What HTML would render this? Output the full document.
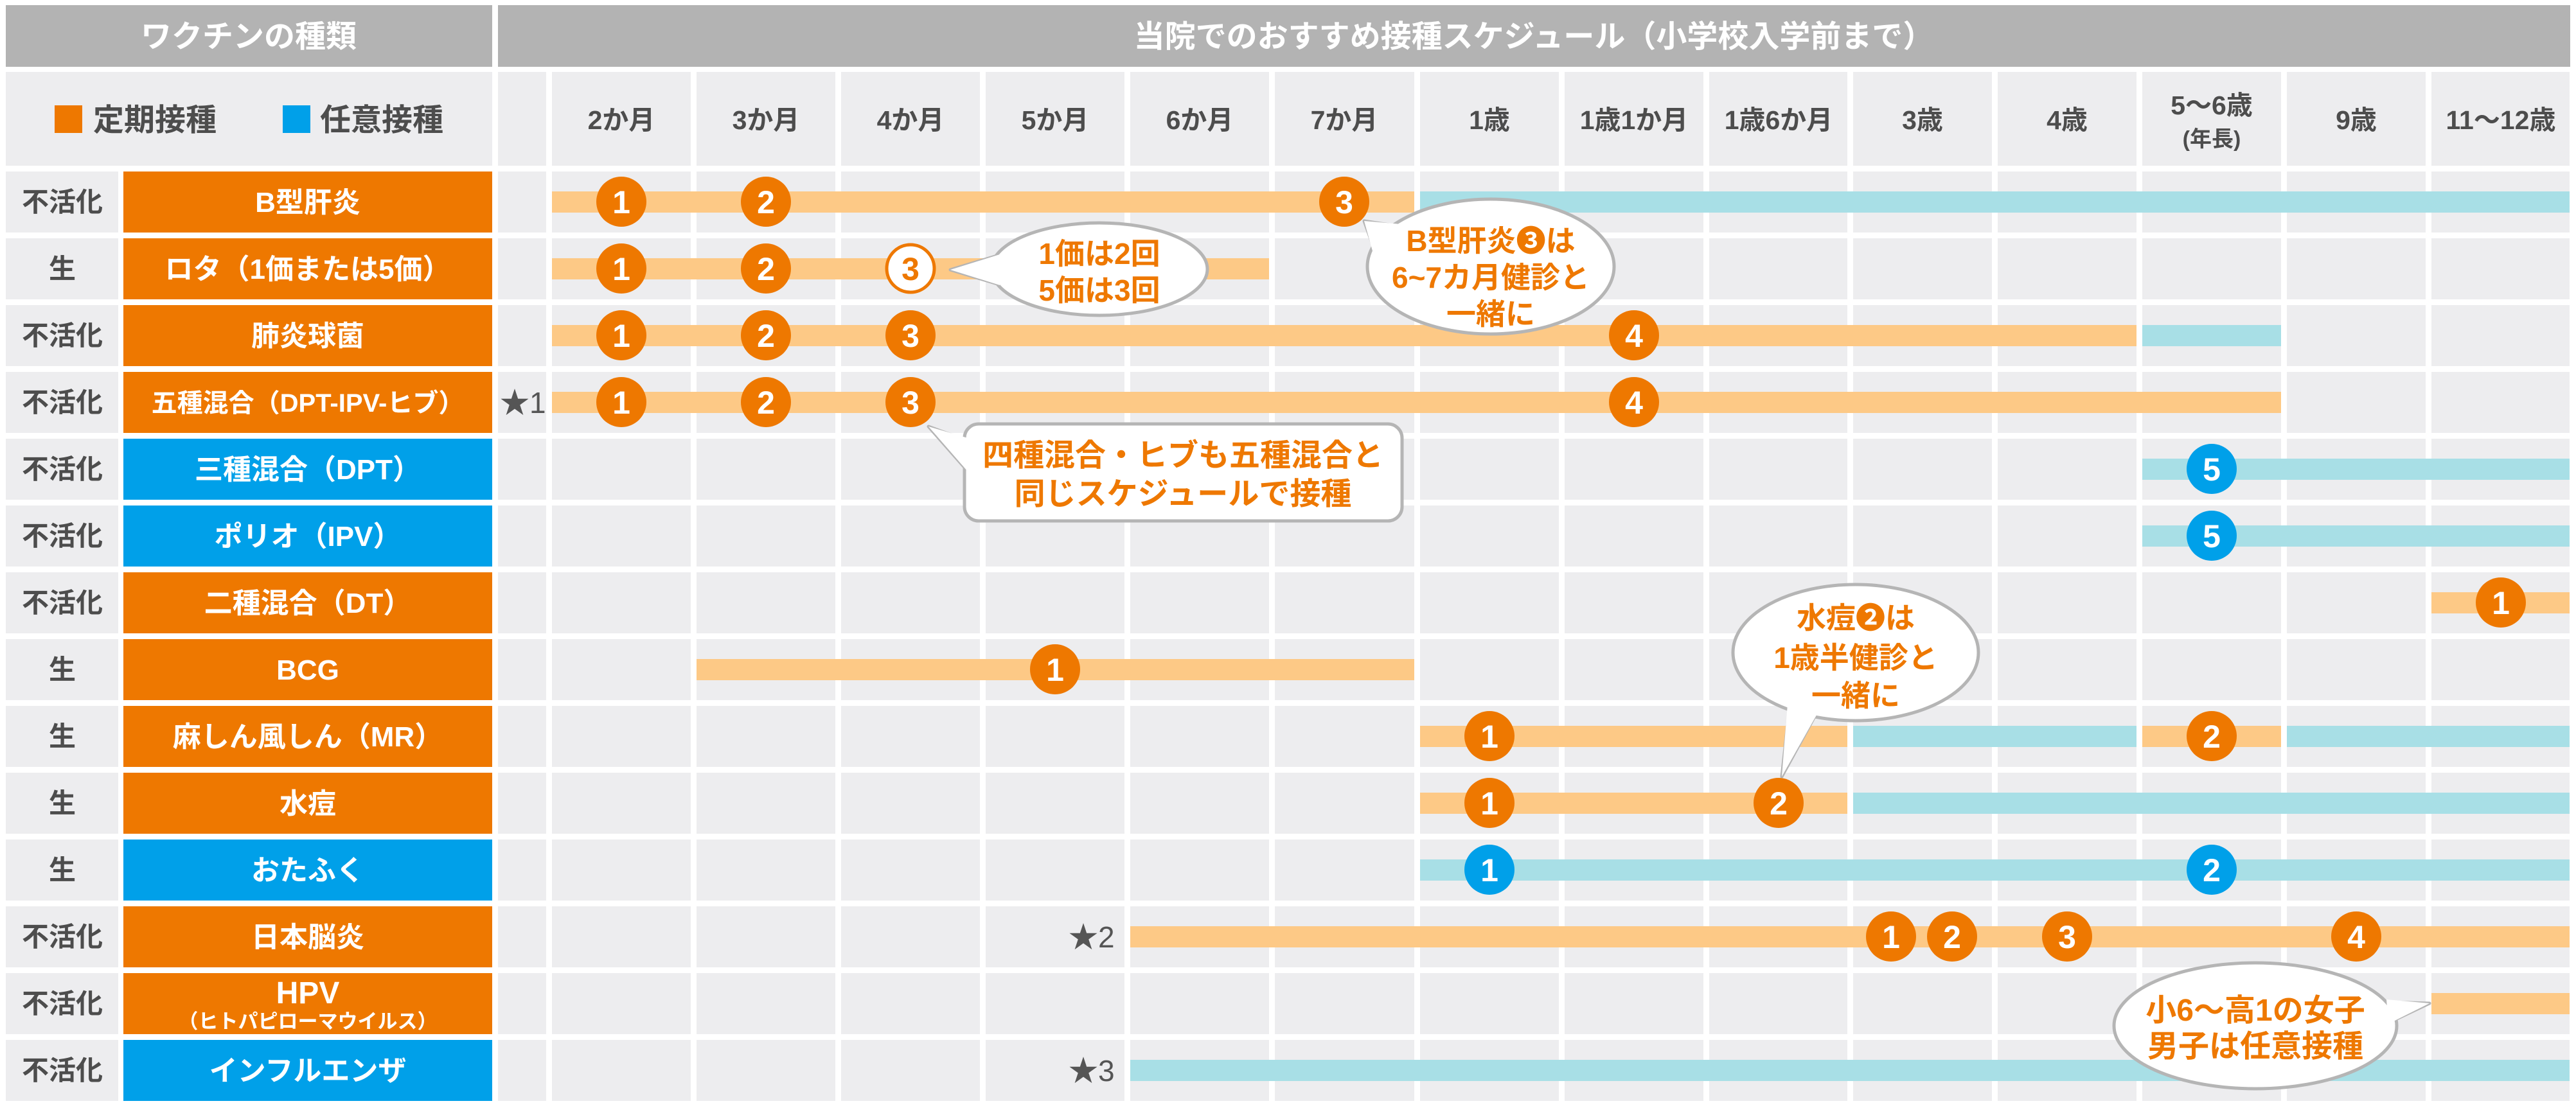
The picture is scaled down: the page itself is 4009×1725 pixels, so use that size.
<!DOCTYPE html>
<html><head><meta charset="utf-8"><style>
html,body{margin:0;padding:0;background:#fff;}
svg{display:block;}
text{font-family:"Liberation Sans","Noto Sans CJK JP","DejaVu Sans",sans-serif;font-weight:700;}
.ty{font-size:42px;fill:#4d4d4d;text-anchor:middle;}
.nm{font-size:44px;fill:#fff;text-anchor:middle;}
.mo{font-size:41px;fill:#4d4d4d;text-anchor:middle;}
.cn{font-size:50px;fill:#fff;text-anchor:middle;}
.co{font-size:46px;fill:#ee7800;text-anchor:middle;}
.st{font-size:46px;fill:#555;font-weight:400;}
</style></head><body>
<svg width="4009" height="1725" viewBox="0 0 4009 1725" xmlns="http://www.w3.org/2000/svg">
<rect width="4009" height="1725" fill="#fff"/>
<rect x="9" y="8" width="757" height="96" fill="#b3b3b3"/>
<rect x="775" y="8" width="3225" height="96" fill="#b3b3b3"/>
<text x="387" y="73" text-anchor="middle" style="font-size:48px;fill:#fff">ワクチンの種類</text>
<text x="2387" y="73" text-anchor="middle" style="font-size:48px;fill:#fff">当院でのおすすめ接種スケジュール（小学校入学前まで）</text>
<rect x="9" y="112" width="757" height="1602" fill="#ededef"/>
<rect x="775" y="112" width="3224" height="1602" fill="#ededef"/>
<g fill="#fff">
<rect x="184" y="267" width="8" height="1450"/>
<rect x="850" y="112" width="9" height="1605"/>
<rect x="1075" y="112" width="9" height="1605"/>
<rect x="1300" y="112" width="9" height="1605"/>
<rect x="1525" y="112" width="9" height="1605"/>
<rect x="1750" y="112" width="9" height="1605"/>
<rect x="1975" y="112" width="9" height="1605"/>
<rect x="2201" y="112" width="9" height="1605"/>
<rect x="2426" y="112" width="9" height="1605"/>
<rect x="2651" y="112" width="9" height="1605"/>
<rect x="2875" y="112" width="9" height="1605"/>
<rect x="3100" y="112" width="9" height="1605"/>
<rect x="3325" y="112" width="9" height="1605"/>
<rect x="3550" y="112" width="9" height="1605"/>
<rect x="3775" y="112" width="9" height="1605"/>
<rect x="0" y="258" width="4009" height="9"/>
<rect x="0" y="362" width="4009" height="9"/>
<rect x="0" y="466" width="4009" height="9"/>
<rect x="0" y="570" width="4009" height="9"/>
<rect x="0" y="674" width="4009" height="9"/>
<rect x="0" y="778" width="4009" height="9"/>
<rect x="0" y="882" width="4009" height="9"/>
<rect x="0" y="986" width="4009" height="9"/>
<rect x="0" y="1090" width="4009" height="9"/>
<rect x="0" y="1194" width="4009" height="9"/>
<rect x="0" y="1298" width="4009" height="9"/>
<rect x="0" y="1402" width="4009" height="9"/>
<rect x="0" y="1506" width="4009" height="9"/>
<rect x="0" y="1610" width="4009" height="9"/>
<rect x="0" y="1714" width="4009" height="11"/>
</g>
<rect x="85" y="164" width="43" height="43" fill="#ee7800"/>
<text x="145" y="203" style="font-size:48px;fill:#4d4d4d">定期接種</text>
<rect x="440" y="164" width="43" height="43" fill="#00a0e9"/>
<text x="498" y="203" style="font-size:48px;fill:#4d4d4d">任意接種</text>
<text class="mo" x="967" y="201">2か月</text>
<text class="mo" x="1192" y="201">3か月</text>
<text class="mo" x="1417" y="201">4か月</text>
<text class="mo" x="1642" y="201">5か月</text>
<text class="mo" x="1867" y="201">6か月</text>
<text class="mo" x="2092" y="201">7か月</text>
<text class="mo" x="2318" y="201">1歳</text>
<text class="mo" x="2543" y="201">1歳1か月</text>
<text class="mo" x="2768" y="201">1歳6か月</text>
<text class="mo" x="2992" y="201">3歳</text>
<text class="mo" x="3217" y="201">4歳</text>
<text class="mo" x="3442" y="178">5～6歳</text>
<text class="mo" x="3442" y="228" style="font-size:34px">(年長)</text>
<text class="mo" x="3667" y="201">9歳</text>
<text class="mo" x="3892" y="201">11～12歳</text>
<text class="ty" x="97" y="329">不活化</text>
<text class="ty" x="97" y="433">生</text>
<text class="ty" x="97" y="537">不活化</text>
<text class="ty" x="97" y="641">不活化</text>
<text class="ty" x="97" y="745">不活化</text>
<text class="ty" x="97" y="849">不活化</text>
<text class="ty" x="97" y="953">不活化</text>
<text class="ty" x="97" y="1057">生</text>
<text class="ty" x="97" y="1161">生</text>
<text class="ty" x="97" y="1265">生</text>
<text class="ty" x="97" y="1369">生</text>
<text class="ty" x="97" y="1473">不活化</text>
<text class="ty" x="97" y="1577">不活化</text>
<text class="ty" x="97" y="1681">不活化</text>
<g>
<rect x="192" y="267" width="574" height="95" fill="#ee7800"/>
<rect x="192" y="371" width="574" height="95" fill="#ee7800"/>
<rect x="192" y="475" width="574" height="95" fill="#ee7800"/>
<rect x="192" y="579" width="574" height="95" fill="#ee7800"/>
<rect x="192" y="683" width="574" height="95" fill="#00a0e9"/>
<rect x="192" y="787" width="574" height="95" fill="#00a0e9"/>
<rect x="192" y="891" width="574" height="95" fill="#ee7800"/>
<rect x="192" y="995" width="574" height="95" fill="#ee7800"/>
<rect x="192" y="1099" width="574" height="95" fill="#ee7800"/>
<rect x="192" y="1203" width="574" height="95" fill="#ee7800"/>
<rect x="192" y="1307" width="574" height="95" fill="#00a0e9"/>
<rect x="192" y="1411" width="574" height="95" fill="#ee7800"/>
<rect x="192" y="1515" width="574" height="95" fill="#ee7800"/>
<rect x="192" y="1619" width="574" height="95" fill="#00a0e9"/>
</g>
<text class="nm" x="479" y="330">B型肝炎</text>
<text class="nm" x="479" y="434">ロタ（1価または5価）</text>
<text class="nm" x="479" y="538">肺炎球菌</text>
<text class="nm" x="479" y="641" style="font-size:40px">五種混合（DPT-IPV-ヒブ）</text>
<text class="nm" x="479" y="746">三種混合（DPT）</text>
<text class="nm" x="479" y="850">ポリオ（IPV）</text>
<text class="nm" x="479" y="954">二種混合（DT）</text>
<text class="nm" x="479" y="1058">BCG</text>
<text class="nm" x="479" y="1162">麻しん風しん（MR）</text>
<text class="nm" x="479" y="1266">水痘</text>
<text class="nm" x="479" y="1370">おたふく</text>
<text class="nm" x="479" y="1474">日本脳炎</text>
<text class="nm" x="479" y="1562" style="font-size:48px">HPV</text>
<text class="nm" x="479" y="1601" style="font-size:31px">（ヒトパピローマウイルス）</text>
<text class="nm" x="479" y="1682">インフルエンザ</text>
<text class="st" x="778" y="643">★1</text>
<text class="st" x="1663" y="1475">★2</text>
<text class="st" x="1663" y="1683">★3</text>
<g fill="#fdc986">
<rect x="859" y="298" width="1342" height="33"/>
<rect x="859" y="402" width="1116" height="33"/>
<rect x="859" y="506" width="2466" height="33"/>
<rect x="859" y="610" width="2691" height="33"/>
<rect x="3784" y="922" width="215" height="33"/>
<rect x="1084" y="1026" width="1117" height="33"/>
<rect x="2210" y="1130" width="665" height="33"/>
<rect x="3334" y="1130" width="216" height="33"/>
<rect x="2210" y="1234" width="665" height="33"/>
<rect x="1759" y="1442" width="2240" height="33"/>
<rect x="3784" y="1546" width="215" height="33"/>
</g>
<g fill="#a8dfe6">
<rect x="2210" y="298" width="1789" height="33"/>
<rect x="3334" y="506" width="216" height="33"/>
<rect x="3334" y="714" width="665" height="33"/>
<rect x="3334" y="818" width="665" height="33"/>
<rect x="2884" y="1130" width="441" height="33"/>
<rect x="3559" y="1130" width="440" height="33"/>
<rect x="2884" y="1234" width="1115" height="33"/>
<rect x="2210" y="1338" width="1789" height="33"/>
<rect x="1759" y="1650" width="2240" height="33"/>
</g>
<g fill="#ee7800">
<circle cx="967" cy="314" r="39"/><circle cx="1192" cy="314" r="39"/><circle cx="2092" cy="314" r="39"/>
<circle cx="967" cy="418" r="39"/><circle cx="1192" cy="418" r="39"/>
<circle cx="967" cy="522" r="39"/><circle cx="1192" cy="522" r="39"/><circle cx="1417" cy="522" r="39"/><circle cx="2543" cy="522" r="39"/>
<circle cx="967" cy="626" r="39"/><circle cx="1192" cy="626" r="39"/><circle cx="1417" cy="626" r="39"/><circle cx="2543" cy="626" r="39"/>
<circle cx="3892" cy="938" r="39"/>
<circle cx="1642" cy="1042" r="39"/>
<circle cx="2318" cy="1146" r="39"/><circle cx="3442" cy="1146" r="39"/>
<circle cx="2318" cy="1250" r="39"/><circle cx="2768" cy="1250" r="39"/>
<circle cx="2943" cy="1458" r="39"/><circle cx="3038" cy="1458" r="39"/><circle cx="3217" cy="1458" r="39"/><circle cx="3667" cy="1458" r="39"/>
</g>
<circle cx="1417" cy="418" r="37" fill="#fff" stroke="#ee7800" stroke-width="5"/>
<g fill="#00a0e9">
<circle cx="3442" cy="730" r="39"/><circle cx="3442" cy="834" r="39"/>
<circle cx="2318" cy="1354" r="39"/><circle cx="3442" cy="1354" r="39"/>
</g>
<g>
<text class="cn" x="967" y="332">1</text><text class="cn" x="1192" y="332">2</text><text class="cn" x="2092" y="332">3</text>
<text class="cn" x="967" y="436">1</text><text class="cn" x="1192" y="436">2</text><text class="cn" x="1417" y="436" style="fill:#ee7800">3</text>
<text class="cn" x="967" y="540">1</text><text class="cn" x="1192" y="540">2</text><text class="cn" x="1417" y="540">3</text><text class="cn" x="2543" y="540">4</text>
<text class="cn" x="967" y="644">1</text><text class="cn" x="1192" y="644">2</text><text class="cn" x="1417" y="644">3</text><text class="cn" x="2543" y="644">4</text>
<text class="cn" x="3442" y="748">5</text><text class="cn" x="3442" y="852">5</text>
<text class="cn" x="3892" y="956">1</text>
<text class="cn" x="1642" y="1060">1</text>
<text class="cn" x="2318" y="1164">1</text><text class="cn" x="3442" y="1164">2</text>
<text class="cn" x="2318" y="1268">1</text><text class="cn" x="2768" y="1268">2</text>
<text class="cn" x="2318" y="1372">1</text><text class="cn" x="3442" y="1372">2</text>
<text class="cn" x="2943" y="1476">1</text><text class="cn" x="3038" y="1476">2</text><text class="cn" x="3217" y="1476">3</text><text class="cn" x="3667" y="1476">4</text>
</g>
<g fill="#fff" stroke="#b5b5b5" stroke-width="5" stroke-linejoin="round">
<path d="M1552,398 L1479,420 L1552,442"/>
<ellipse cx="1711" cy="419" rx="168" ry="72"/>
<path d="M1556,396 L1479,420 L1556,444 Z" stroke="none"/>
<path d="M2175,352 L2123,344 L2143,400"/>
<ellipse cx="2320" cy="415" rx="192" ry="105"/>
<path d="M2180,349 L2123,344 L2140,405 Z" stroke="none"/>
<path d="M1510,688 L1445,664 L1510,738"/>
<rect x="1501" y="660" width="681" height="151" rx="22"/>
<path d="M1513,684 L1445,664 L1513,742 Z" stroke="none"/>
<path d="M2785,1100 L2773,1209 L2826,1112"/>
<ellipse cx="2888" cy="1016" rx="191" ry="106"/>
<path d="M2782,1096 L2773,1209 L2830,1108 Z" stroke="none"/>
<path d="M3718,1560 L3781,1562 L3722,1590"/>
<ellipse cx="3510" cy="1597" rx="220" ry="98"/>
<path d="M3714,1556 L3781,1562 L3717,1594 Z" stroke="none"/>
</g>
<text class="co" x="1711" y="411">1価は2回</text>
<text class="co" x="1711" y="468">5価は3回</text>
<text class="co" x="2320" y="391">B型肝炎❸は</text>
<text class="co" x="2320" y="448">6~7カ月健診と</text>
<text class="co" x="2320" y="505">一緒に</text>
<text class="co" x="1841" y="725" style="font-size:48px">四種混合・ヒブも五種混合と</text>
<text class="co" x="1841" y="785" style="font-size:48px">同じスケジュールで接種</text>
<text class="co" x="2888" y="978">水痘❷は</text>
<text class="co" x="2888" y="1040">1歳半健診と</text>
<text class="co" x="2888" y="1099">一緒に</text>
<text class="co" x="3510" y="1589" style="font-size:48px">小6～高1の女子</text>
<text class="co" x="3510" y="1645" style="font-size:48px">男子は任意接種</text>
</svg>
</body></html>
